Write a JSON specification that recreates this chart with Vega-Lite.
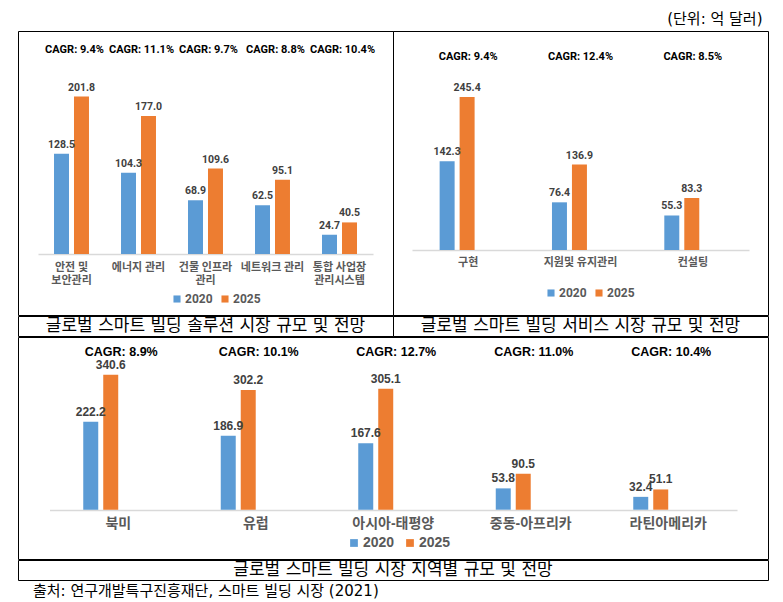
{
  "$schema": "https://vega.github.io/schema/vega-lite/v6.json",
  "background": "white",
  "padding": {"left": 17, "top": 11, "right": 16, "bottom": 0},
  "title": {"text": "(단위: 억 달러)", "anchor": "end", "dx": -6, "offset": 4, "fontSize": 15, "fontWeight": "normal", "font": "DejaVu Sans, Noto Sans CJK KR, sans-serif", "color": "black"},
  "config": {
    "view": {"stroke": "black", "strokeWidth": 1},
    "concat": {"spacing": 0}
  },
  "datasets": {
    "solution": [
      {"category": "안전 및|보안관리", "year": "2020", "value": 128.5},
      {"category": "안전 및|보안관리", "year": "2025", "value": 201.8},
      {"category": "에너지 관리", "year": "2020", "value": 104.3},
      {"category": "에너지 관리", "year": "2025", "value": 177.0},
      {"category": "건물 인프라|관리", "year": "2020", "value": 68.9},
      {"category": "건물 인프라|관리", "year": "2025", "value": 109.6},
      {"category": "네트워크 관리", "year": "2020", "value": 62.5},
      {"category": "네트워크 관리", "year": "2025", "value": 95.1},
      {"category": "통합 사업장|관리시스템", "year": "2020", "value": 24.7},
      {"category": "통합 사업장|관리시스템", "year": "2025", "value": 40.5}
    ],
    "solution_cagr": [
      {"category": "안전 및|보안관리", "cagr": "CAGR: 9.4%"},
      {"category": "에너지 관리", "cagr": "CAGR: 11.1%"},
      {"category": "건물 인프라|관리", "cagr": "CAGR: 9.7%"},
      {"category": "네트워크 관리", "cagr": "CAGR: 8.8%"},
      {"category": "통합 사업장|관리시스템", "cagr": "CAGR: 10.4%"}
    ],
    "service": [
      {"category": "구현", "year": "2020", "value": 142.3},
      {"category": "구현", "year": "2025", "value": 245.4},
      {"category": "지원및 유지관리", "year": "2020", "value": 76.4},
      {"category": "지원및 유지관리", "year": "2025", "value": 136.9},
      {"category": "컨설팅", "year": "2020", "value": 55.3},
      {"category": "컨설팅", "year": "2025", "value": 83.3}
    ],
    "service_cagr": [
      {"category": "구현", "cagr": "CAGR: 9.4%"},
      {"category": "지원및 유지관리", "cagr": "CAGR: 12.4%"},
      {"category": "컨설팅", "cagr": "CAGR: 8.5%"}
    ],
    "region": [
      {"category": "북미", "year": "2020", "value": 222.2},
      {"category": "북미", "year": "2025", "value": 340.6},
      {"category": "유럽", "year": "2020", "value": 186.9},
      {"category": "유럽", "year": "2025", "value": 302.2},
      {"category": "아시아-태평양", "year": "2020", "value": 167.6},
      {"category": "아시아-태평양", "year": "2025", "value": 305.1},
      {"category": "중동-아프리카", "year": "2020", "value": 53.8},
      {"category": "중동-아프리카", "year": "2025", "value": 90.5},
      {"category": "라틴아메리카", "year": "2020", "value": 32.4},
      {"category": "라틴아메리카", "year": "2025", "value": 51.1}
    ],
    "region_cagr": [
      {"category": "북미", "cagr": "CAGR: 8.9%"},
      {"category": "유럽", "cagr": "CAGR: 10.1%"},
      {"category": "아시아-태평양", "cagr": "CAGR: 12.7%"},
      {"category": "중동-아프리카", "cagr": "CAGR: 11.0%"},
      {"category": "라틴아메리카", "cagr": "CAGR: 10.4%"}
    ]
  },
  "resolve": {"scale": {"x": "independent", "y": "independent", "color": "independent"}, "legend": {"color": "independent"}},
  "vconcat": [
    {
      "hconcat": [
        {
          "width": 375, "height": 284,
          "data": {"name": "solution"},
          "layer": [
            {
              "mark": {"type": "bar"},
              "encoding": {
                "x": {"field": "category", "type": "nominal", "sort": null,
                  "scale": {"range": [20, 355], "paddingInner": 0.478, "paddingOuter": 0.239},
                  "axis": {"title": null, "offset": -61, "labelAngle": 0, "ticks": false, "domainColor": "#D9D9D9", "domainWidth": 1.5, "labelFont": "Roboto, Noto Sans CJK KR, sans-serif", "labelFontSize": 11, "labelFontWeight": "bold", "labelColor": "#595959", "labelPadding": 7, "labelLineHeight": 13, "labelExpr": "split(datum.label, '|')", "labelLimit": 0, "labelOverlap": false, "grid": false}},
                "xOffset": {"field": "year", "type": "nominal", "scale": {"paddingInner": 0.25, "paddingOuter": 0}},
                "y": {"field": "value", "type": "quantitative", "scale": {"domain": [-78.2, 285.9], "nice": false, "zero": false}, "axis": null},
                "y2": {"datum": 0},
                "color": {"field": "year", "type": "nominal", "scale": {"domain": ["2020", "2025"], "range": ["#5B9BD5", "#ED7D31"]},
                  "legend": {"orient": "none", "legendX": 153, "legendY": 262, "direction": "horizontal", "title": null, "symbolType": "square", "symbolSize": 50, "symbolStrokeWidth": 0, "labelFont": "Roboto, sans-serif", "labelFontSize": 12, "labelFontWeight": "bold", "labelColor": "#595959", "labelOffset": 2, "columnPadding": 6}}
              }
            },
            {
              "mark": {"type": "text", "baseline": "bottom", "dy": -4, "font": "Roboto, sans-serif", "fontSize": 10.5, "fontWeight": "bold", "color": "#404040"},
              "encoding": {
                "x": {"field": "category", "type": "nominal", "sort": null},
                "xOffset": {"field": "year", "type": "nominal"},
                "y": {"field": "value", "type": "quantitative"},
                "text": {"field": "value", "type": "quantitative", "format": ".1f"}
              }
            },
            {
              "data": {"name": "solution_cagr"},
              "mark": {"type": "text", "baseline": "middle", "dx": 3, "font": "Roboto, sans-serif", "fontSize": 11, "fontWeight": "bold", "color": "black"},
              "encoding": {
                "x": {"field": "category", "type": "nominal", "sort": null},
                "y": {"datum": 261.5, "type": "quantitative"},
                "text": {"field": "cagr"}
              }
            }
          ]
        },
        {
          "width": 375, "height": 284,
          "data": {"name": "service"},
          "layer": [
            {
              "mark": {"type": "bar"},
              "encoding": {
                "x": {"field": "category", "type": "nominal", "sort": null,
                  "scale": {"range": [19, 356], "paddingInner": 0.492, "paddingOuter": 0.246},
                  "axis": {"title": null, "offset": -65, "labelAngle": 0, "ticks": false, "domainColor": "#D9D9D9", "domainWidth": 1.5, "labelFont": "Roboto, Noto Sans CJK KR, sans-serif", "labelFontSize": 11, "labelFontWeight": "bold", "labelColor": "#595959", "labelPadding": 6, "labelLimit": 0, "labelOverlap": false, "grid": false}},
                "xOffset": {"field": "year", "type": "nominal", "scale": {"paddingInner": 0.219, "paddingOuter": 0}},
                "y": {"field": "value", "type": "quantitative", "scale": {"domain": [-104.2, 351], "nice": false, "zero": false}, "axis": null},
                "y2": {"datum": 0},
                "color": {"field": "year", "type": "nominal", "scale": {"domain": ["2020", "2025"], "range": ["#5B9BD5", "#ED7D31"]},
                  "legend": {"orient": "none", "legendX": 152, "legendY": 256, "direction": "horizontal", "title": null, "symbolType": "square", "symbolSize": 50, "symbolStrokeWidth": 0, "labelFont": "Roboto, sans-serif", "labelFontSize": 12, "labelFontWeight": "bold", "labelColor": "#595959", "labelOffset": 2, "columnPadding": 6}}
              }
            },
            {
              "mark": {"type": "text", "baseline": "bottom", "dy": -4, "font": "Roboto, sans-serif", "fontSize": 10.5, "fontWeight": "bold", "color": "#404040"},
              "encoding": {
                "x": {"field": "category", "type": "nominal", "sort": null},
                "xOffset": {"field": "year", "type": "nominal"},
                "y": {"field": "value", "type": "quantitative"},
                "text": {"field": "value", "type": "quantitative", "format": ".1f"}
              }
            },
            {
              "data": {"name": "service_cagr"},
              "mark": {"type": "text", "baseline": "middle", "font": "Roboto, sans-serif", "fontSize": 11, "fontWeight": "bold", "color": "black"},
              "encoding": {
                "x": {"field": "category", "type": "nominal", "sort": null},
                "y": {"datum": 309, "type": "quantitative"},
                "text": {"field": "cagr"}
              }
            }
          ]
        }
      ],
      "spacing": 0,
      "bounds": "flush",
      "resolve": {"scale": {"x": "independent", "y": "independent", "color": "independent"}, "legend": {"color": "independent"}}
    },
    {
      "hconcat": [
        {
          "width": 375, "height": 20,
          "view": {"stroke": "black", "strokeWidth": 1},
          "data": {"values": [{"caption": "글로벌 스마트 빌딩 솔루션 시장 규모 및 전망"}]},
          "mark": {"type": "text", "font": "DejaVu Sans, Noto Sans CJK KR, sans-serif", "fontSize": 17, "color": "black", "baseline": "middle"},
          "encoding": {"text": {"field": "caption"}}
        },
        {
          "width": 375, "height": 20,
          "view": {"stroke": "black", "strokeWidth": 1},
          "data": {"values": [{"caption": "글로벌 스마트 빌딩 서비스 시장 규모 및 전망"}]},
          "mark": {"type": "text", "font": "DejaVu Sans, Noto Sans CJK KR, sans-serif", "fontSize": 17, "color": "black", "baseline": "middle"},
          "encoding": {"text": {"field": "caption"}}
        }
      ],
      "spacing": 0,
      "bounds": "flush"
    },
    {
      "width": 750, "height": 222,
      "data": {"name": "region"},
      "layer": [
        {
          "mark": {"type": "bar"},
          "encoding": {
            "x": {"field": "category", "type": "nominal", "sort": null,
              "scale": {"range": [31.5, 719], "paddingInner": 0.491, "paddingOuter": 0.2455},
              "axis": {"title": null, "offset": -49, "labelAngle": 0, "ticks": false, "domainColor": "#D9D9D9", "domainWidth": 1.5, "labelFont": "Liberation Sans, Noto Sans CJK KR, sans-serif", "labelFontSize": 14, "labelFontWeight": "bold", "labelColor": "#595959", "labelPadding": 6, "labelLimit": 0, "labelOverlap": false, "grid": false}},
            "xOffset": {"field": "year", "type": "nominal", "scale": {"paddingInner": 0.205, "paddingOuter": 0}},
            "y": {"field": "value", "type": "quantitative", "scale": {"domain": [-124.5, 436], "nice": false, "zero": false}, "axis": null},
            "y2": {"datum": 0},
            "color": {"field": "year", "type": "nominal", "scale": {"domain": ["2020", "2025"], "range": ["#5B9BD5", "#ED7D31"]},
              "legend": {"orient": "none", "legendX": 329, "legendY": 199, "direction": "horizontal", "title": null, "symbolType": "square", "symbolSize": 60, "symbolStrokeWidth": 0, "labelFont": "Liberation Sans, sans-serif", "labelFontSize": 14, "labelFontWeight": "bold", "labelColor": "#595959", "labelOffset": 2, "columnPadding": 8}}
          }
        },
        {
          "mark": {"type": "text", "baseline": "bottom", "dy": -3, "font": "Liberation Sans, sans-serif", "fontSize": 12, "fontWeight": "bold", "color": "#404040"},
          "encoding": {
            "x": {"field": "category", "type": "nominal", "sort": null},
            "xOffset": {"field": "year", "type": "nominal"},
            "y": {"field": "value", "type": "quantitative"},
            "text": {"field": "value", "type": "quantitative", "format": ".1f"}
          }
        },
        {
          "data": {"name": "region_cagr"},
          "mark": {"type": "text", "baseline": "middle", "dx": 3, "font": "Liberation Sans, sans-serif", "fontSize": 12.5, "fontWeight": "bold", "color": "black"},
          "encoding": {
            "x": {"field": "category", "type": "nominal", "sort": null},
            "y": {"datum": 399, "type": "quantitative"},
            "text": {"field": "cagr"}
          }
        }
      ]
    },
    {
      "width": 750, "height": 20,
      "view": {"stroke": "black", "strokeWidth": 1},
      "data": {"values": [{"caption": "글로벌 스마트 빌딩 시장 지역별 규모 및 전망"}]},
      "mark": {"type": "text", "font": "DejaVu Sans, Noto Sans CJK KR, sans-serif", "fontSize": 17, "color": "black", "baseline": "middle"},
      "encoding": {"text": {"field": "caption"}}
    },
    {
      "width": 750, "height": 20,
      "view": {"stroke": null},
      "data": {"values": [{"source": "출처: 연구개발특구진흥재단, 스마트 빌딩 시장 (2021)", "pos": 0}]},
      "mark": {"type": "text", "align": "left", "baseline": "middle", "dx": 15, "font": "DejaVu Sans, Noto Sans CJK KR, sans-serif", "fontSize": 15, "color": "black"},
      "encoding": {
        "x": {"field": "pos", "type": "quantitative", "scale": {"domain": [0, 1]}, "axis": null},
        "text": {"field": "source"}
      }
    }
  ],
  "spacing": -2
}
